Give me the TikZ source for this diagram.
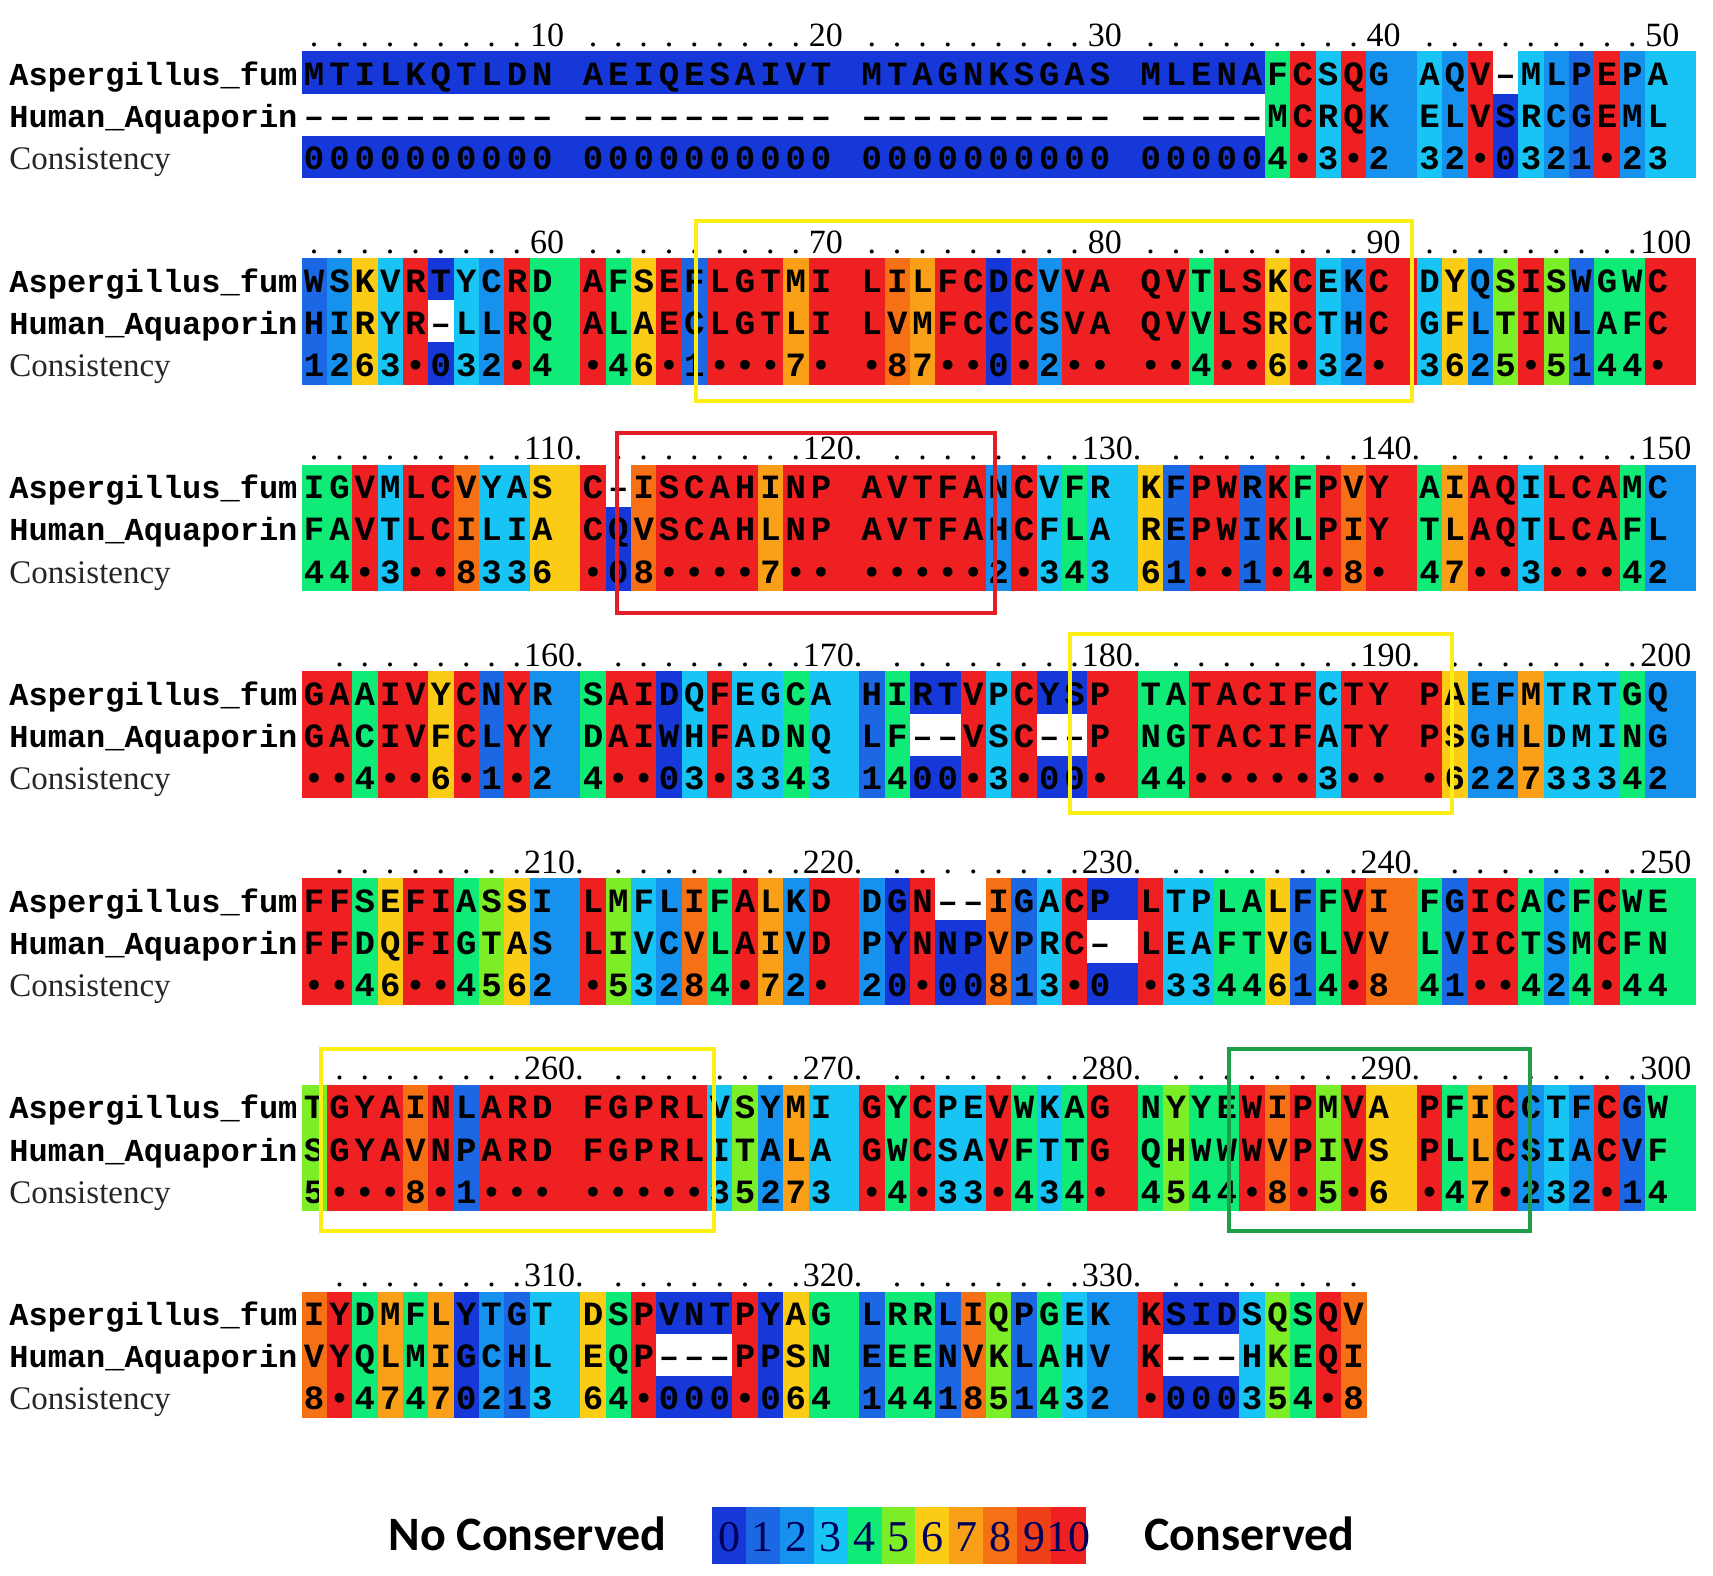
\documentclass[tikz,border=0pt]{standalone}
\usepackage{fontspec}
\setmainfont{Liberation Serif}
\newfontfamily\seqfont{Liberation Mono}
\newfontfamily\legfont{Carlito}
\usepackage{xstring}
\usetikzlibrary{positioning}

\definecolor{sc0}{RGB}{22,56,216}
\definecolor{sc1}{RGB}{28,104,228}
\definecolor{sc2}{RGB}{22,146,238}
\definecolor{sc3}{RGB}{24,196,244}
\definecolor{sc4}{RGB}{16,234,118}
\definecolor{sc5}{RGB}{124,238,40}
\definecolor{sc6}{RGB}{250,204,22}
\definecolor{sc7}{RGB}{250,160,24}
\definecolor{sc8}{RGB}{246,112,22}
\definecolor{sc9}{RGB}{240,64,24}
\definecolor{sc10}{RGB}{238,32,34}
\definecolor{boxyellow}{RGB}{250,238,20}
\definecolor{boxred}{RGB}{228,28,38}
\definecolor{boxgreen}{RGB}{30,158,72}

% one alignment block: #1 block number, #2 Aspergillus, #3 Human, #4 consistency
\newcommand{\drawblock}[4]{%
  \pgfmathsetmacro\ytop{51.3+#1*206.7}
  \node[lab] (asp-#1) at (9,\ytop+34) {Aspergillus\_fum};
  \node[lab] (hum-#1) at (9,\ytop+76.2) {Human\_Aquaporin};
  \node[conslab] (con-#1) at (9,\ytop+118.4) {Consistency};
  \StrLen{#4}[\ncol]
  \foreach \i in {1,...,\ncol}{
    \StrChar{#2}{\i}[\casp]
    \StrChar{#3}{\i}[\chum]
    \StrChar{#4}{\i}[\ccon]
    \IfStrEq{\ccon}{*}{\def\cnum{10}\def\ctxt{•}}{\let\cnum\ccon\let\ctxt\ccon}
    \IfStrEq{\casp}{-}{\def\fasp{white}\def\tasp{–}}{\edef\fasp{sc\cnum}\let\tasp\casp}
    \IfStrEq{\chum}{-}{\def\fhum{white}\def\thum{–}}{\edef\fhum{sc\cnum}\let\thum\chum}
    \pgfmathsetmacro\xl{301.5+(\i-1+floor((\i-1)/10))*25.35}
    \pgfmathsetmacro\xr{\xl+ifthenelse(mod(\i,10)==0,2,1)*25.35+0.6}
    \pgfmathsetmacro\xc{\xl+12.675}
    \pgfmathtruncatemacro\rem{mod(\i,10)}
    \pgfmathtruncatemacro\num{50*#1+\i}
    \fill[\fasp] (\xl,\ytop) rectangle (\xr,\ytop+42.4);
    \fill[\fhum] (\xl,\ytop+42.2) rectangle (\xr,\ytop+84.6);
    \fill[sc\cnum] (\xl,\ytop+84.4) rectangle (\xr,\ytop+126.6);
    \node[res] (asp-#1-\i) at (\xc,\ytop+34) {\tasp};
    \node[res] (hum-#1-\i) at (\xc,\ytop+76.2) {\thum};
    \node[res] (con-#1-\i) at (\xc,\ytop+118.4) {\ctxt};
    % ruler: dots, a number every ten columns
    \ifnum\rem=0
      \ifnum\num>99
        \ifnum\i=50
          \node[ruler,anchor=base west] (rul-#1-\i) at (\xl-5,\ytop-5) {\num};
        \else
          \node[ruler,anchor=base west] (rul-#1-\i) at (\xl-6,\ytop-5) {\num.};
        \fi
      \else
        \node[ruler,anchor=base west] (rul-#1-\i) at (\xl,\ytop-5) {\num};
      \fi
    \else
      \ifnum\rem=1
        \ifnum\num>101 \else
          \node[ruler,anchor=base] (rul-#1-\i) at (\xc,\ytop-5) {.};
        \fi
      \else
        \node[ruler,anchor=base] (rul-#1-\i) at (\xc,\ytop-5) {.};
      \fi
    \fi
  }
}

\begin{document}
\begin{tikzpicture}[
  x = 0.5pt, y = -0.5pt,
  res/.style = {font=\seqfont\bfseries\fontsize{17}{17}\selectfont,inner sep=0pt,anchor=base},
  lab/.style = {font=\seqfont\bfseries\fontsize{16}{16}\selectfont,inner sep=0pt,anchor=base west},
  conslab/.style = {font=\fontsize{16.5}{16.5}\selectfont,text=black!85,inner sep=0pt,anchor=base west},
  ruler/.style = {font=\fontsize{17}{17}\selectfont,inner sep=0pt},
  hilite/.style = {line width=1.8pt},
  legend/.style = {font=\legfont\bfseries\fontsize{24}{24}\selectfont,inner sep=0pt,anchor=base west},
  keydigit/.style = {font=\fontsize{22}{22}\selectfont,text=blue!35!black,inner sep=0pt}
  ]
  \useasboundingbox (0,0) rectangle (1713,1575);

  \drawblock{0}{MTILKQTLDNAEIQESAIVTMTAGNKSGASMLENAFCSQGAQV-MLPEPA}
               {-----------------------------------MCRQKELVSRCGEML}
               {000000000000000000000000000000000004*3*232*0321*23}
  \drawblock{1}{WSKVRTYCRDAFSEFLGTMILILFCDCVVAQVTLSKCEKCDYQSISWGWC}
               {HIRYR-LLRQALAECLGTLILVMFCCCSVAQVVLSRCTHCGFLTINLAFC}
               {1263*032*4*46*1***7**87**0*2****4**6*32*3625*5144*}
  \drawblock{2}{IGVMLCVYASC-ISCAHINPAVTFANCVFRKFPWRKFPVYAIAQILCAMC}
               {FAVTLCILIACQVSCAHLNPAVTFAHCFLAREPWIKLPIYTLAQTLCAFL}
               {44*3**8336*08****7*******2*34361**1*4*8*47**3***42}
  \drawblock{3}{GAAIVYCNYRSAIDQFEGCAHIRTVPCYSPTATACIFCTYPAEFMTRTGQ}
               {GACIVFCLYYDAIWHFADNQLF--VSC--PNGTACIFATYPSGHLDMING}
               {**4**6*1*24**03*33431400*3*00*44*****3***622733342}
  \drawblock{4}{FFSEFIASSILMFLIFALKDDGN--IGACPLTPLALFFVIFGICACFCWE}
               {FFDQFIGTASLIVCVLAIVDPYNNPVPRC-LEAFTVGLVVLVICTSMCFN}
               {**46**4562*53284*72*20*00813*0*3344614*841**424*44}
  \drawblock{5}{TGYAINLARDFGPRLVSYMIGYCPEVWKAGNYYEWIPMVAPFICCTFCGW}
               {SGYAVNPARDFGPRLITALAGWCSAVFTTGQHWWWVPIVSPLLCSIACVF}
               {5***8*1********35273*4*33*434*4544*8*5*6*47*232*14}
  \drawblock{6}{IYDMFLYTGTDSPVNTPYAGLRRLIQPGEKKSIDSQSQV}
               {VYQLMIGCHLEQP---PPSNEEENVKLAHVK---HKEQI}
               {8*4747021364*000*0641441851432*000354*8}

  % highlighted regions
  \draw[hilite,boxyellow] (696,221) rectangle (1412,401);
  \draw[hilite,boxred] (617,433) rectangle (995,613);
  \draw[hilite,boxyellow] (1070,634) rectangle (1452,813);
  \draw[hilite,boxyellow] (321,1049) rectangle (714,1231);
  \draw[hilite,boxgreen] (1229,1049) rectangle (1530,1231);

  % colour key
  \node[legend] (nocons) at (388,1550) {No Conserved};
  \foreach \k in {0,...,10}{
    \fill[sc\k] (712+\k*33.9,1507) rectangle ++(34.5,57);
    \node[keydigit] (key-\k) at (712+\k*33.9+17,1537) {\k};
  }
  \node[legend] (cons) at (1144,1550) {Conserved};
\end{tikzpicture}
\end{document}
